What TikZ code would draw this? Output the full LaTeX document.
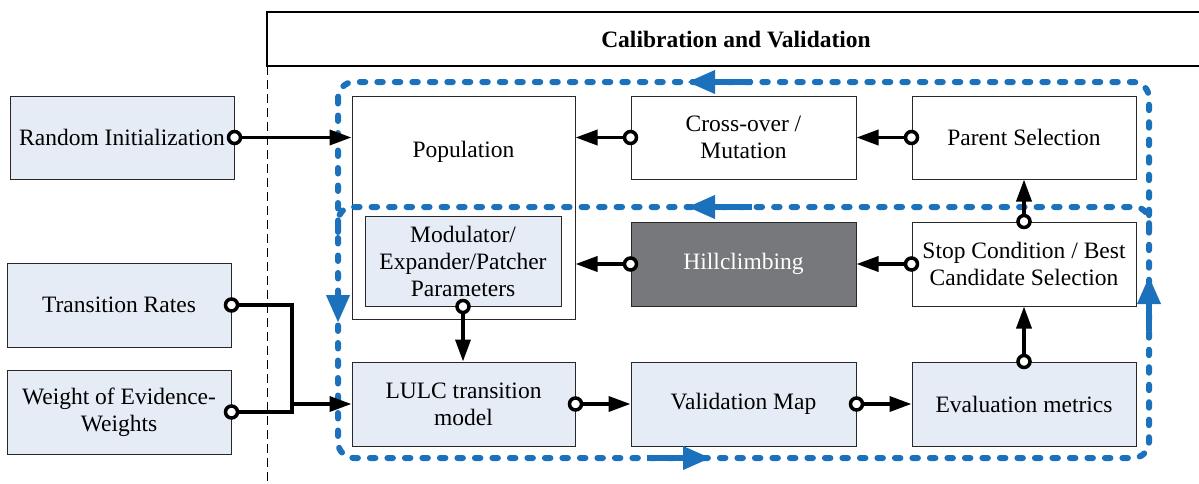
\documentclass[tikz,border=0pt]{standalone}
\usepackage{fontspec}
\setmainfont{Liberation Serif}
\usetikzlibrary{arrows.meta}
\definecolor{lightfill}{RGB}{230,236,246}
\definecolor{loopblue}{RGB}{28,113,189}
\definecolor{hcgray}{RGB}{119,120,123}
\definecolor{edgegray}{RGB}{40,40,40}
\begin{document}
\begin{tikzpicture}[x=1pt,y=-1pt,font=\fontsize{23.5}{27}\selectfont,
  bx/.style={draw=edgegray, line width=1pt, inner sep=0pt, align=center, minimum width=224pt, minimum height=84pt},
  lb/.style={bx, fill=lightfill},
  wb/.style={bx, fill=white},
  conn/.style={line width=3.6pt, -{Triangle[length=22pt,width=15pt]}},
  ring/.style={circle, draw=black, line width=3.5pt, fill=white, inner sep=0pt, minimum size=12pt},
  bloop/.style={draw=loopblue, line width=6pt, line cap=round, dash pattern=on 5.5pt off 12pt},
  bluearrow/.style={draw=loopblue, line width=6.5pt, -{Triangle[length=28pt,width=22pt]}}]
\useasboundingbox (0,0) rectangle (1199,483);
% title frame
\draw[line width=2pt] (1205,12) -- (267,12) -- (267,66) -- (1205,66);
\node[font=\fontsize{23.5}{27}\selectfont\bfseries] (title) at (736,40) {Calibration and Validation};
\draw[line width=1pt, dash pattern=on 9pt off 5pt] (267,66) -- (267,483);
% left inputs
\node[lb, minimum width=224pt, minimum height=83pt] (ri) at (122,137.5) {Random Initialization};
\node[lb] (tr) at (119,305) {Transition Rates};
\node[lb] (woe) at (119,412) {Weight of Evidence-\\Weights};
% main blocks
\node[wb, minimum width=223pt, minimum height=223pt] (pop) at (463.5,207.5) {};
\node (poptext) at (463.5,152) {Population};
\node[wb, minimum width=225pt, minimum height=83pt] (cm) at (743.5,137.5) {Cross-over /\\Mutation};
\node[wb, minimum height=83pt] (ps) at (1024,137.5) {Parent Selection};
\node[lb, minimum width=196pt, minimum height=90pt] (mod) at (463,261) {Modulator/\\Expander/Patcher\\Parameters};
\node[bx, fill=hcgray, text=white, minimum width=225pt] (hc) at (743.5,264) {Hillclimbing};
\node[wb] (sc) at (1024,264) {Stop Condition / Best\\Candidate Selection};
\node[lb, minimum width=223pt] (lulc) at (463.5,404) {LULC transition\\model};
\node[lb, minimum width=225pt] (vm) at (743.5,404) {Validation Map};
\node[lb] (em) at (1024,404) {Evaluation metrics};
% blue loops
\draw[bloop, rounded corners=16pt] (338,82) rectangle (1149,458);
\draw[bloop, rounded corners=14pt] (338,232) |- (1149,207) -- (1149,232);
\draw[bluearrow] (752,82) -- (687,82);
\draw[bluearrow] (752,207) -- (687,207);
\draw[bluearrow] (338,292) -- (338,323);
\draw[bluearrow] (647,458) -- (711,458);
\draw[bluearrow] (1149,331) -- (1149,276);
% connectors
\coordinate (bus) at (292,404);
\draw[conn] (ri.east) -- (pop.west |- ri.east);
\draw[conn] (cm.west) -- (pop.east |- cm.west);
\draw[conn] (ps.west) -- (cm.east);
\draw[conn] (sc.north) -- (ps.south);
\draw[conn] (hc.west) -- (pop.east |- hc.west);
\draw[conn] (sc.west) -- (hc.east);
\draw[conn] (mod.south) -- (lulc.north -| mod.south);
\draw[conn] (lulc.east) -- (vm.west);
\draw[conn] (vm.east) -- (em.west);
\draw[conn] (em.north) -- (sc.south);
\draw[line width=3.6pt] (tr.east) -| (bus |- woe.east) -- (woe.east);
\draw[conn] (bus) -- (lulc.west);
% start rings
\foreach \p in {ri.east, cm.west, ps.west, sc.north, hc.west, sc.west, mod.south, lulc.east, vm.east, em.north, tr.east, woe.east}
  \node[ring] at (\p) {};
\end{tikzpicture}
\end{document}
